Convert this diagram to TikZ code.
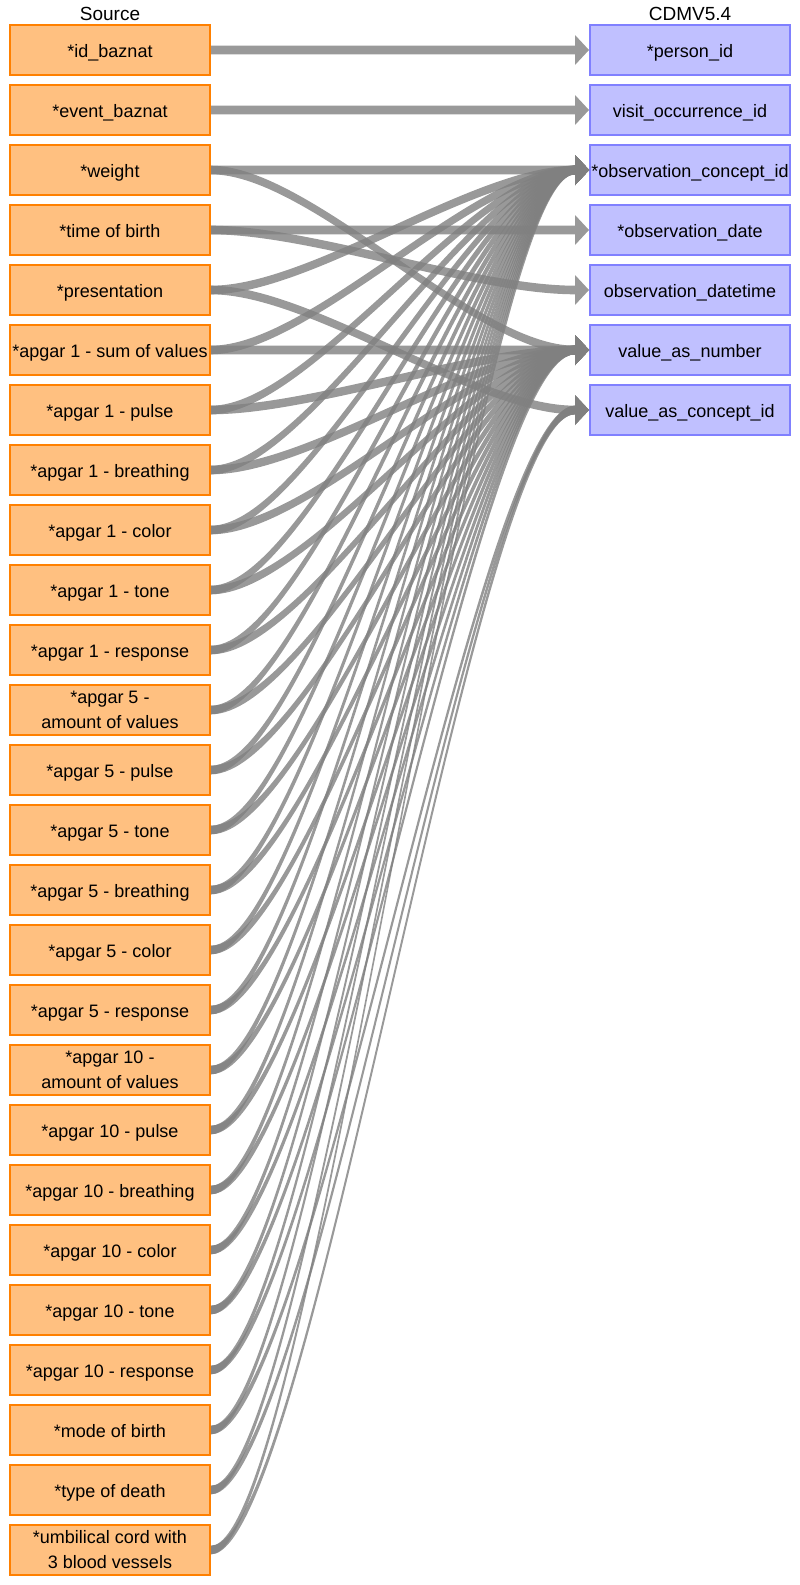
\documentclass[tikz,border=0pt]{standalone}
\usepackage{fontspec}
\setmainfont{Liberation Sans}
\usetikzlibrary{calc}
\definecolor{srcfill}{RGB}{255,192,128}
\definecolor{srcline}{RGB}{255,128,0}
\definecolor{tgtfill}{RGB}{192,192,255}
\definecolor{tgtline}{RGB}{128,128,255}
\definecolor{ribcol}{RGB}{128,128,128}
\newcommand\ribconn[2]{%
  \fill[rib] ($(#1.east)+(0,4.3)$) .. controls ($(#1.east)+(100,4.3)$) and ($(#2.west)+(-114,4.3)$) .. ($(#2.west)+(-14,4.3)$)
    -- ($(#2.west)+(-14,15)$) -- (#2.west) -- ($(#2.west)+(-14,-15)$) -- ($(#2.west)+(-14,-4.3)$)
    .. controls ($(#2.west)+(-114,-4.3)$) and ($(#1.east)+(100,-4.3)$) .. ($(#1.east)+(0,-4.3)$) -- cycle;}
\begin{document}
\begin{tikzpicture}[x=1pt,y=1pt,
  box/.style={rectangle,line width=2pt,minimum width=200pt,minimum height=50pt,inner sep=0pt,outer sep=1pt,align=center,font=\fontsize{18}{25}\selectfont},
  oneline/.style={text height=14.5pt,text depth=0pt},
  src/.style={box,draw=srcline,fill=srcfill},
  tgt/.style={box,draw=tgtline,fill=tgtfill,oneline},
  title/.style={anchor=base,font=\fontsize{19}{22}\selectfont,inner sep=0pt},
  rib/.style={fill=ribcol,fill opacity=0.8}]
\useasboundingbox (0,0) rectangle (800,-1585);
\node[title] (hs) at (110,-20) {Source};
\node[title] (ht) at (690,-20) {CDMV5.4};
% source boxes
\node[src,oneline] (s0) at (110,-50) {*id\_baznat};
\node[src,oneline] (s1) at (110,-110) {*event\_baznat};
\node[src,oneline] (s2) at (110,-170) {*weight};
\node[src,oneline] (s3) at (110,-230) {*time of birth};
\node[src,oneline] (s4) at (110,-290) {*presentation};
\node[src,oneline] (s5) at (110,-350) {*apgar 1 - sum of values};
\node[src,oneline] (s6) at (110,-410) {*apgar 1 - pulse};
\node[src,oneline] (s7) at (110,-470) {*apgar 1 - breathing};
\node[src,oneline] (s8) at (110,-530) {*apgar 1 - color};
\node[src,oneline] (s9) at (110,-590) {*apgar 1 - tone};
\node[src,oneline] (s10) at (110,-650) {*apgar 1 - response};
\node[src] (s11) at (110,-710) {*apgar 5 -\\amount of values};
\node[src,oneline] (s12) at (110,-770) {*apgar 5 - pulse};
\node[src,oneline] (s13) at (110,-830) {*apgar 5 - tone};
\node[src,oneline] (s14) at (110,-890) {*apgar 5 - breathing};
\node[src,oneline] (s15) at (110,-950) {*apgar 5 - color};
\node[src,oneline] (s16) at (110,-1010) {*apgar 5 - response};
\node[src] (s17) at (110,-1070) {*apgar 10 -\\amount of values};
\node[src,oneline] (s18) at (110,-1130) {*apgar 10 - pulse};
\node[src,oneline] (s19) at (110,-1190) {*apgar 10 - breathing};
\node[src,oneline] (s20) at (110,-1250) {*apgar 10 - color};
\node[src,oneline] (s21) at (110,-1310) {*apgar 10 - tone};
\node[src,oneline] (s22) at (110,-1370) {*apgar 10 - response};
\node[src,oneline] (s23) at (110,-1430) {*mode of birth};
\node[src,oneline] (s24) at (110,-1490) {*type of death};
\node[src] (s25) at (110,-1550) {*umbilical cord with\\3 blood vessels};
% target boxes
\node[tgt] (t0) at (690,-50) {*person\_id};
\node[tgt] (t1) at (690,-110) {visit\_occurrence\_id};
\node[tgt] (t2) at (690,-170) {*observation\_concept\_id};
\node[tgt] (t3) at (690,-230) {*observation\_date};
\node[tgt] (t4) at (690,-290) {observation\_datetime};
\node[tgt] (t5) at (690,-350) {value\_as\_number};
\node[tgt] (t6) at (690,-410) {value\_as\_concept\_id};
% connectors
\foreach \a/\b in {0/0,1/1,2/2,2/5,3/3,3/4,4/2,4/6,
  5/2,5/5,6/2,6/5,7/2,7/5,8/2,8/5,9/2,9/5,10/2,10/5,
  11/2,11/5,12/2,12/5,13/2,13/5,14/2,14/5,15/2,15/5,16/2,16/5,
  17/2,17/5,18/2,18/5,19/2,19/5,20/2,20/5,21/2,21/5,22/2,22/5,
  23/2,23/6,24/2,24/6,25/2,25/6}{\ribconn{s\a}{t\b}}
\end{tikzpicture}
\end{document}
